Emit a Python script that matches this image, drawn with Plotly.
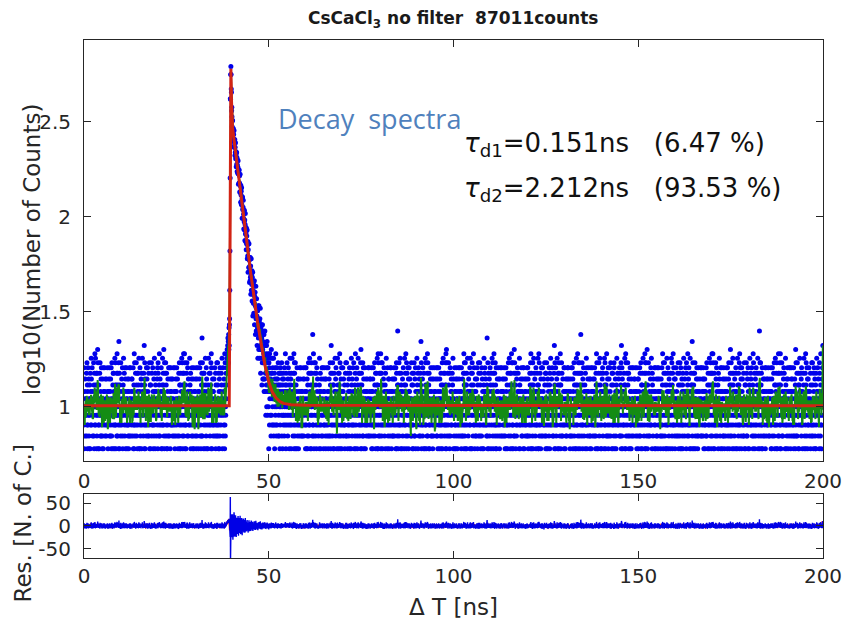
import numpy as np
import plotly.graph_objects as go

DT = 0.05  # ns per channel

# Background counts (one base-36 character per channel), 0.00 - 38.95 ns
bg_left = [
    "8g6a5c7eb9 9b4fa7h8d6 c8g5a9e7b6 9db6fa8c5i e8b4g9a7c5 a9h7d6fb8j",
    "a5i8dc9f6b 7fd9kah6b8 d86a9f4hb7 c9e7g8b5a6 7eb9g6c58a 9g5c7e4ab8",
    "a7e9b8g5c4 6b8c9e5ga7 a5c7e8bg69 7ha94bd6f8 f9c5b6ai8d h8b6a9d7fj",
    "9a7fbd8h6m b9f6d8a47h c4a8e5b9g7 6bd9ic5af8 a7g5e6c9b8 g9a6b5e8c7",
    "8c6ea7g9b5 5bg7a9c8e4 e5b7a9g6c8 d6j8h7a9bf 4a8hd79bf6 c8af5d9ib6",
    "9c6g8a7b5e d6f8a9ic5b b7a9f8l6dh e6b8c5a7g9 8e9ag4c7b5 f7b8h6a9d4",
    "6d9a4h7fb8 5ag8c6b9e7 8ib5c6fd9a 4c7b9ae8g5 6hfa9b7dj8 7ae9b5c8g6",
    "b9a6di8c5f 8dk7b6h9af a4hb7d8f69 b6c8e7a9g5 9b7g5ae6c8 g9c5e8b4a7",
    "e8b4g9a7c5 8g6a5c7eb9 c8g5a9e7b6 9b4fa7h8d6 9db6fa8c5i a9h7d6fb8j",
    "7fd9jah6b8 d86a9f4hb7 9g5c7e4ab8 a5i8dc9f6b c9e7g8b5a6 7eb9g6c58a",
    "a5c7e8bg69 a7e9b8g5c4 6b8c9e5ga7 h8b6a9d7fn 7ha94bd6f8 f9c5b6ai8d",
    "a7g5e6c9b8 6bd9ic5af8 9a7fbd8h6j g9a6b5e8c7 c4a8e5b9g7 b9f6d8a47h",
    "4a8hd79bf6 8c6ea7g9b5 c8af5d9ib6 5bg7a9c8e4 d6j8h7a9bf bgdihkfjln",
]

# Counts around the decay, 39.00 - 55.95 ns
peak_counts = [
    19, 22, 17, 24, 20, 26,
    21, 27, 29, 41, 66, 160, 418, 415, 560, 617, 560, 470, 452, 361, 377,
    336, 297, 321, 321, 283, 254, 281, 291, 257, 271, 235, 284, 247, 231, 250, 255, 210, 232, 218, 245,
    202, 220, 209, 183, 217, 218, 189, 204, 173, 187, 199, 170, 182, 197, 168, 148, 175, 167, 150, 176,
    151, 164, 135, 148, 167, 134, 145, 119, 146, 130, 136, 116, 142, 116, 122, 98, 125, 127, 109, 98,
    112, 122, 98, 103, 86, 107, 94, 108, 85, 96, 75, 91, 104, 81, 74, 88, 82, 67, 87, 72,
    79, 72, 85, 60, 71, 62, 74, 51, 67, 72, 60, 54, 72, 54, 59, 45, 61, 55, 46, 61,
    48, 55, 39, 49, 60, 41, 49, 44, 52, 36, 48, 39, 51, 30, 41, 45, 35, 45, 31, 39,
    35, 46, 27, 38, 30, 40, 34, 24, 37, 43, 29, 25, 33, 37, 25, 30, 21, 33, 26, 32,
    18, 29, 34, 23, 27, 20, 34, 24, 28, 18, 25, 29, 20, 33, 21, 15, 25, 26, 18, 27,
    20, 23, 13, 25, 17, 27, 20, 14, 22, 17, 24, 14, 19, 24, 12, 17, 21, 14, 25, 12,
    18, 15, 21, 9, 17, 19, 13, 21, 10, 15, 22, 12, 17, 9, 18, 13, 19, 10, 15, 6,
    17, 12, 16, 8, 19, 11, 13, 9, 18, 12, 14, 7, 15, 20, 9, 13, 8, 15, 11, 18,
    10, 16, 8, 13, 11, 18, 7, 13, 12, 8, 15, 6, 14, 10, 16, 9, 12, 19, 8, 13,
    7, 14, 10, 16, 8, 12, 5, 14, 11, 13, 17, 7, 12, 9, 15, 7, 13, 10, 15, 6,
    12, 8, 16, 10, 13, 5, 11, 15, 9, 17, 7, 12, 10, 14, 6, 13, 9, 15, 8, 11,
    14, 9, 12, 7, 16, 10, 11, 8, 13, 19, 9, 12, 6, 15, 10, 13, 8, 11, 17, 9,
    12, 10, 7, 14, 11, 16, 8, 12, 9, 13, 6, 15, 10, 12, 18, 8, 11, 9, 14,
]

# Background counts (one base-36 character per channel), 56.00 - 199.95 ns
bg_right = [
    "d6f8a9ic5b b7a9f8j6dh f7b8h6a9d4 9c6g8a7b5e e6b8c5a7g9 8e9ag4c7b5",
    "4c7b9ae8g5 7ae9b5c8g6 5ag8c6b9e7 6d9a4h7fb8 8ib5c6fd9a 6hfa9b7do8",
    "8dj7b6h9af a4hb7d8f69 g9c5e8b4a7 b9a6di8c5f b6c8e7a9g5 9b7g5ae6c8",
    "c8g5a9e7b6 e8b4g9a7c5 8g6a5c7eb9 a9h7d6fbl8 9b4fa7h8d6 9db6fa8c5i",
    "c9e7g8b5a6 a5i8dc9f6b 7fd9jah6b8 7eb9g6c58a 9g5c7e4ab8 d86a9f4hb7",
    "7ha94bd6f8 a5c7e8bg69 f9c5b6ai8d a7e9b8g5c4 h8b6a9d7fj 6b8c9e5ga7",
    "6bd9ic5af8 9a7fbd8h6k b9f6d8a47h a7g5e6c9b8 g9a6b5e8c7 c4a8e5b9g7",
    "5bg7a9c8e4 e5b7a9g6c8 8c6ea7g9b5 4a8hd79bf6 c8af5d9ib6 d6j8h7a9bf",
    "b7a9f8j6dh f7b8h6a9d4 8e9ag4c7b5 d6f8a9ic5b 9c6g8a7b5e e6b8c5a7g9",
    "5ag8c6b9e7 4c7b9ae8g5 7ae9b5c8g6 6hfa9b7dp8 6d9a4h7fb8 8ib5c6fd9a",
    "b6c8e7a9g5 b9a6di8c5f 8dj7b6h9af 9b7g5ae6c8 g9c5e8b4a7 a4hb7d8f69",
    "d86a9f4hb7 7eb9g6c58a a5i8dc9f6b 9g5c7e4ab8 7fd9mah6b8 c9e7g8b5a6",
    "f9c5b6ai8d h8b6a9d7fj 7ha94bd6f8 6b8c9e5ga7 a5c7e8bg69 a7e9b8g5c4",
    "c4a8e5b9g7 a7g5e6c9b8 g9a6b5e8c7 b9f6d8a47h 6bd9ic5af8 9a7fbd8h6j",
    "d6k8h7a9bf 4a8hd79bf6 5bg7a9c8e4 c8af5d9ib6 e5b7a9g6c8 8c6ea7g9b5",
    "e6b8c5a7g9 8e9ag4c7b5 9c6g8a7b5e b7a9f8j6dh f7b8h6a9d4 d6f8a9ic5b",
    "7ae9b5c8g6 8ib5c6fd9a 6hfa9b7dj8 5ag8c6b9e7 4c7b9ae8g5 6d9a4h7fb8",
    "a4hb7d8f69 9b7g5ae6c8 b9a6di8c5f g9c5e8b4a7 8dn7b6h9af b6c8e7a9g5",
    "9db6fa8c5i a9h7d6fb8j 9b4fa7h8d6 8g6a5c7eb9 c8g5a9e7b6 e8b4g9a7c5",
    "9g5c7e4ab8 c9e7g8b5a6 7eb9g6c58a d86a9f4hb7 a5i8dc9f6b 7fd9jah6b8",
    "h8b6a9d7fk 7ha94bd6f8 a7e9b8g5c4 f9c5b6ai8d 6b8c9e5ga7 a5c7e8bg69",
    "g9a6b5e8c7 c4a8e5b9g7 a7g5e6c9b8 9a7fbd8h6j b9f6d8a47h 6bd9ic5af8",
    "e5b7a9g6c8 c8af5d9ib6 d6j8h7a9bf 8c6ea7g9b5 5bg7a9c8e4 4a8hd79bf6",
    "f7b8h6a9d4 e6b8c5a7g9 d6f8a9ic5b 8e9ag4c7b5 b7a9f8l6dh 9c6g8a7b5e",
    "8ib5c6fd9a 6hfa9b7dj8 6d9a4h7fb8 7ae9b5c8g6 5ag8c6b9e7 4c7b9ae8g5",
    "g9c5e8b4a7 b6c8e7a9g5 9b7g5ae6c8 a4hb7d8f69 b9a6di8c5f 8dj7b6h9af",
    "a9h7d6fb8o 9b4fa7h8d6 e8b4g9a7c5 9db6fa8c5i 8g6a5c7eb9 c8g5a9e7b6",
    "7eb9g6c58a 9g5c7e4ab8 c9e7g8b5a6 7fd9jah6b8 d86a9f4hb7 a5i8dc9f6b",
    "6b8c9e5ga7 f9c5b6ai8d h8b6a9d7fj a5c7e8bg69 a7e9b8g5c4 7ha94bd6f8",
    "b9f6d8a47h g9a6b5e8c7 6bd9ic5af8 c4a8e5b9g7 9a7fbd8h6l a7g5e6c9b8",
    "c8af5d9ib6 d6j8h7a9bf 4a8hd79bf6 e5b7a9g6c8 8c6ea7g9b5 5bg7a9c8e4",
    "8e9ag4c7b5 9c6g8a7b5e e6b8c5a7g9 f7b8h6a9d4 d6f8a9ic5b b7a9f8j6dh",
    "6hfa9b7dk8 6d9a4h7fb8 4c7b9ae8g5 8ib5c6fd9a 7ae9b5c8g6 5ag8c6b9e7",
    "9b7g5ae6c8 g9c5e8b4a7 b6c8e7a9g5 8dj7b6h9af a4hb7d8f69 b9a6di8c5f",
    "8g6a5c7eb9 9db6fa8c5i a9h7d6fb8j c8g5a9e7b6 e8b4g9a7c5 9b4fa7h8d6",
    "9b4fa7h8d6 g9a6b5e8c7 d6f8a9ic5b a7e9b8g5c4 6hfa9b7dj8 c9e7g8b5a6",
    "8ib5c6fd9a 8dm7b6h9af d86a9f4hb7 6b8c9e5ga7 8c6ea7g9b5 c4a8e5b9g7",
    "5bg7a9c8e4 a7g5e6c9b8 e6b8c5a7g9 7ha94bd6f8 b9a6di8c5f a9h7d6fb8j",
    "7fd9jah6b8 b9f6d8a47h 8e9ag4c7b5 9db6fa8c5i e5b7a9g6c8 5ag8c6b9e7",
    "9b7g5ae6c8 4c7b9ae8g5 9c6g8a7b5e h8b6a9d7fk 4a8hd79bf6 a5i8dc9f6b",
    "7ae9b5c8g6 f9c5b6ai8d 9a7fbd8h6j c8g5a9e7b6 g9c5e8b4a7 f7b8h6a9d4",
    "6d9a4h7fb8 7eb9g6c58a 6bd9ic5af8 e8b4g9a7c5 d6j8h7a9bf b6c8e7a9g5",
    "c8af5d9ib6 b7a9f8p6dh a4hb7d8f69 8g6a5c7eb9 a5c7e8bg69 9g5c7e4ab8",
    "8e9ag4c7b5 7ae9b5c8g6 8c6ea7g9b5 9b4fa7h8d6 a5i8dc9f6b h8b6a9d7fj",
    "9a7fbd8h6j d86a9f4hb7 4c7b9ae8g5 f9c5b6ai8d b6c8e7a9g5 e6b8c5a7g9",
    "5ag8c6b9e7 g9c5e8b4a7 8g6a5c7eb9 d6k8h7a9bf 7ha94bd6f8 6bd9ic5af8",
    "c9e7g8b5a6 c8af5d9ib6 b7a9f8j6dh 9b7g5ae6c8 e8b4g9a7c5 b9f6d8a47h",
    "4a8hd79bf6 c8g5a9e7b6 d6f8a9ic5b 9g5c7e4ab8 6hfa9b7dj8 6b8c9e5gal",
]

# Fitted decay curve (ns, log10 counts)
fit_x = [0.0, 39.30, 39.40, 39.47, 39.53, 39.60, 39.67, 39.75, 39.83, 39.92, 40.02,
         40.20, 40.50, 41.0, 42.0, 43.0, 44.0, 45.0, 46.0, 47.0, 48.0, 49.0, 50.0,
         51.0, 52.0, 53.0, 54.0, 56.0, 60.0, 200.0]
fit_y = [1.005, 1.005, 1.35, 1.70, 2.15, 2.55, 2.75, 2.778, 2.71, 2.61, 2.53,
         2.47, 2.42, 2.345, 2.20, 2.04, 1.88, 1.72, 1.565, 1.44, 1.325, 1.215, 1.13,
         1.075, 1.045, 1.027, 1.017, 1.01, 1.007, 1.005]

title_text = "<b>CsCaCl<sub>3</sub> no filter\u00a0\u00a087011counts</b>"
tau_lines = ["<i>τ</i><sub>d1</sub>=0.151ns\u00a0\u00a0\u00a0(6.47\u00a0%)",
             "<i>τ</i><sub>d2</sub>=2.212ns\u00a0\u00a0\u00a0(93.53\u00a0%)"]


def decode(lines):
    return [int(c, 36) for ln in lines for c in ln.replace(" ", "")]


def smooth(y, span):
    y = np.asarray(y, float)
    n = len(y)
    h = span // 2
    out = np.empty(n)
    for i in range(n):
        k = min(i, n - 1 - i, h)
        out[i] = y[i - k:i + k + 1].mean()
    return out


c_left = decode(bg_left)
c_right = decode(bg_right)
x = np.concatenate([np.arange(len(c_left)) * DT,
                    39.0 + np.arange(len(peak_counts)) * DT,
                    56.0 + np.arange(len(c_right)) * DT])
counts = np.array(c_left + peak_counts + c_right, dtype=float)

logc = np.log10(np.where(counts > 0, counts, np.nan))
green = np.log10(smooth(counts, 5))
fit_at_x = 10 ** np.interp(x, fit_x, fit_y)
resid = counts - fit_at_x
resid_s = smooth(resid, 7)

AX = "#262626"
FONT = "DejaVu Sans"

fig = go.Figure()
fig.add_trace(go.Scatter(x=x, y=logc, mode="markers",
                         marker=dict(color="rgb(0,0,235)", size=5, line=dict(width=0)),
                         xaxis="x", yaxis="y", hoverinfo="skip"))
fig.add_trace(go.Scatter(x=x, y=green, mode="lines",
                         line=dict(color="rgb(20,140,20)", width=2),
                         xaxis="x", yaxis="y", hoverinfo="skip"))
fig.add_trace(go.Scatter(x=fit_x, y=fit_y, mode="lines",
                         line=dict(color="rgb(210,35,20)", width=3),
                         xaxis="x", yaxis="y", hoverinfo="skip"))
fig.add_trace(go.Scatter(x=x, y=resid_s, mode="lines",
                         line=dict(color="rgb(230,20,20)", width=2.5),
                         xaxis="x2", yaxis="y2", hoverinfo="skip"))
fig.add_trace(go.Scatter(x=x, y=resid, mode="lines",
                         line=dict(color="rgb(0,0,230)", width=1.4),
                         xaxis="x2", yaxis="y2", hoverinfo="skip"))

axis_common = dict(showline=True, linecolor=AX, linewidth=1, mirror="allticks",
                   ticks="inside", ticklen=7, tickcolor=AX, tickwidth=1,
                   showgrid=False, zeroline=False,
                   tickfont=dict(family=FONT, size=20, color=AX))

fig.update_layout(
    width=854, height=622,
    margin=dict(l=84, r=24, t=40, b=64),
    paper_bgcolor="white", plot_bgcolor="white",
    showlegend=False,
    xaxis=dict(domain=[0, 1], anchor="y", range=[0, 200],
               tickvals=[0, 50, 100, 150, 200], ticklabelstandoff=2, **axis_common),
    yaxis=dict(domain=[0.1873, 1], anchor="x", range=[0.714, 2.93],
               tickvals=[1, 1.5, 2, 2.5], ticktext=["1", "1.5", "2", "2.5"],
               ticklabelstandoff=8, **axis_common),
    xaxis2=dict(domain=[0, 1], anchor="y2", range=[0, 200],
                tickvals=[0, 50, 100, 150, 200], ticklabelstandoff=0, **axis_common),
    yaxis2=dict(domain=[0, 0.1236], anchor="x2", range=[-70, 70],
                tickvals=[-50, 0, 50], ticktext=["-50", "0", "50"],
                ticklabelstandoff=8, **axis_common),
)

ann = [
    dict(text=title_text, x=0.499, y=1.040, font=dict(family=FONT, size=17, color="#1a1a1a"),
         xanchor="center", yanchor="middle"),
    dict(text="Decay\u00a0\u00a0spectra", x=0.260, y=0.849,
         font=dict(family="Open Sans", size=27, color="#4f81bd"),
         xanchor="left", yanchor="middle"),
    dict(text=tau_lines[0], x=0.511, y=0.798, font=dict(family=FONT, size=26, color="#111111"),
         xanchor="left", yanchor="middle"),
    dict(text=tau_lines[1], x=0.511, y=0.711, font=dict(family=FONT, size=26, color="#111111"),
         xanchor="left", yanchor="middle"),
    dict(text="log10(Number of Counts)", x=-0.071, y=0.595, textangle=-90,
         font=dict(family=FONT, size=23, color=AX), xanchor="center", yanchor="middle"),
    dict(text="Res. [N. of C.]", x=-0.083, y=0.066, textangle=-90,
         font=dict(family=FONT, size=23, color=AX), xanchor="center", yanchor="middle"),
    dict(text="Δ T [ns]", x=0.5, y=-0.095,
         font=dict(family=FONT, size=23, color=AX), xanchor="center", yanchor="middle"),
]
for a in ann:
    a.update(xref="paper", yref="paper", showarrow=False)
fig.update_layout(annotations=ann)

fig.write_html("out.html")
